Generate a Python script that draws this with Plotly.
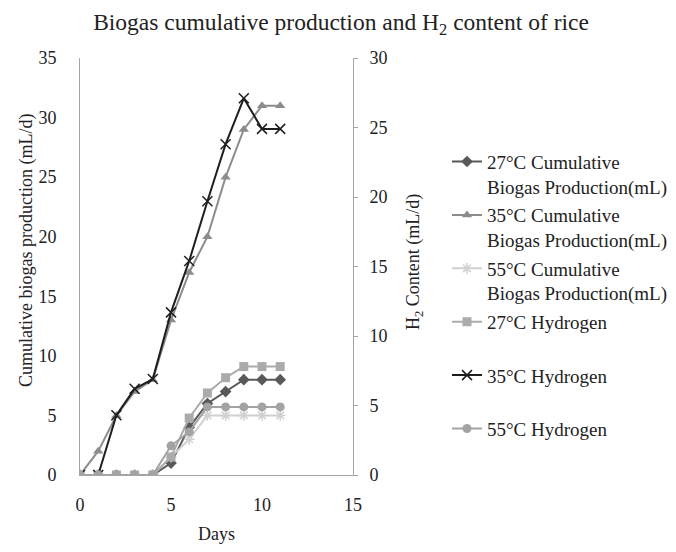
import plotly.graph_objects as go

days = [0, 1, 2, 3, 4, 5, 6, 7, 8, 9, 10, 11]

# Cumulative biogas production (left axis, mL/d)
biogas_27 = [0, 0, 0, 0, 0, 1.0, 4.0, 6.0, 7.0, 8.0, 8.0, 8.0]
biogas_35 = [0, 2.0, 5.0, 7.0, 8.0, 13.0, 17.0, 20.0, 25.0, 29.0, 31.0, 31.0]
biogas_55 = [0, 0, 0, 0, 0, 1.5, 3.0, 5.0, 5.0, 5.0, 5.0, 5.0]

# H2 content (right axis, mL/d)
h2_27 = [0, 0, 0, 0, 0, 1.3, 4.1, 5.9, 7.0, 7.8, 7.8, 7.8]
h2_35 = [0, 0, 4.3, 6.2, 6.9, 11.7, 15.4, 19.7, 23.8, 27.1, 24.9, 24.9]
h2_55 = [0, 0, 0, 0, 0, 2.1, 3.1, 4.9, 4.9, 4.9, 4.9, 4.9]

names = [
    "27°C Cumulative<br>Biogas Production(mL)",
    "35°C Cumulative<br>Biogas Production(mL)",
    "55°C Cumulative<br>Biogas Production(mL)",
    "27°C Hydrogen<br> ",
    "35°C Hydrogen<br> ",
    "55°C Hydrogen<br> ",
]

FONT = "Liberation Serif"
TXT = "#222222"

fig = go.Figure()

def add(y, name, color, symbol, size, axis, group, mline=None):
    marker = dict(symbol=symbol, size=size, color=color)
    if mline:
        marker["line"] = dict(color=color, width=mline)
    fig.add_trace(go.Scatter(
        x=days, y=y, name=name, mode="lines+markers",
        line=dict(color=color, width=2), marker=marker,
        yaxis=axis, legendgroup=group,
    ))

add(biogas_27, names[0], "#595959", "diamond", 9, "y", "a")
add(biogas_35, names[1], "#8c8c8c", "triangle-up", 9, "y", "b")
add(biogas_55, names[2], "#d0d0d0", "asterisk-open", 9, "y", "c", mline=1.5)
add(h2_27, names[3], "#ababab", "square", 9, "y2", "d")
add(h2_35, names[4], "#1e1e1e", "x-thin-open", 10, "y2", "e", mline=1.5)
add(h2_55, names[5], "#a3a3a3", "circle", 9, "y2", "f")

axis_gray = "#a6a6a6"
OFF = 8  # page body margin
W, H = 676 - 2 * OFF, 552 - 2 * OFF
# plot area in window pixels
PL, PR, PT, PB = 80, 353, 58, 475
pw, ph = PR - PL, PB - PT

fig.update_layout(
    width=W, height=H,
    margin=dict(l=PL - OFF, r=W - (PR - OFF), t=PT - OFF, b=H - (PB - OFF),
                autoexpand=False),
    paper_bgcolor="white", plot_bgcolor="white",
    font=dict(family=FONT, size=18, color=TXT),
    title=dict(text="Biogas cumulative production and H<sub>2</sub> content of rice",
               x=(341 - PL) / pw, xanchor="center", xref="paper",
               y=1 - (22 - OFF) / H, yanchor="middle",
               font=dict(family=FONT, size=23.5, color=TXT)),
    xaxis=dict(range=[0, 15], dtick=5, showgrid=False, zeroline=False,
               showline=True, linecolor=axis_gray, linewidth=1,
               ticks="", tickfont=dict(size=18), ticklabelstandoff=13,
               title=dict(text="Days", font=dict(size=18), standoff=28)),
    yaxis=dict(range=[0, 35], dtick=5, showgrid=False, zeroline=False,
               showline=True, linecolor=axis_gray, linewidth=1,
               ticks="", tickfont=dict(size=18), ticklabelstandoff=19),
    yaxis2=dict(range=[0, 30], dtick=5, overlaying="y", side="right",
                showgrid=False, zeroline=False, showline=True,
                linecolor=axis_gray, linewidth=1, ticks="outside",
                ticklen=4, tickcolor=axis_gray, tickfont=dict(size=18),
                ticklabelstandoff=8),
    legend=dict(x=(447 - PL) / pw, y=0.797, xanchor="left", yanchor="top",
                valign="top", tracegroupgap=1,
                font=dict(family=FONT, size=19, color=TXT),
                bgcolor="rgba(0,0,0,0)"),
    showlegend=True,
)

def ann(text, px, py):
    fig.add_annotation(text=text, textangle=-90, x=(px - PL) / pw, y=(PB - py) / ph,
                       xref="paper", yref="paper", showarrow=False,
                       xanchor="center", yanchor="middle",
                       font=dict(family=FONT, size=18, color=TXT))

ann("Cumulative biogas production (mL/d)", 26, 251)
ann("H<sub>2</sub> Content (mL/d)", 415, 262)

fig.write_html("out.html")
